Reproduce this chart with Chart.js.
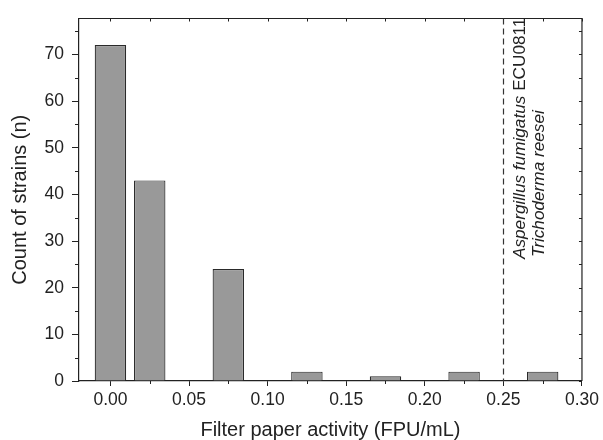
<!DOCTYPE html>
<html>
<head>
<meta charset="utf-8">
<script src="https://cdn.jsdelivr.net/npm/chart.js@4/dist/chart.umd.min.js"></script>
<style>
  html, body { margin: 0; padding: 0; background: #fff; }
  #wrap { width: 603px; height: 440px; }
</style>
</head>
<body>
<div id="wrap"><canvas id="histChart" width="603" height="440"></canvas></div>
<script>
// Histogram bins (FPU/mL) and counts
const binCenters = [0.0, 0.025, 0.075, 0.125, 0.175, 0.225, 0.275];
const strainCounts = [72, 43, 24, 2, 1, 2, 2];

// Reference strain activity marker
const markerValue = 0.25;
const markerLine1 = ['Aspergillus fumigatus ', 'ECU0811'];
const markerLine2 = 'Trichoderma reesei';

// Minor tick positions
const xMinorTicks = [0.025, 0.075, 0.125, 0.175, 0.225, 0.275];
const yMinorTicks = [5, 15, 25, 35, 45, 55, 65, 75];

const axisColor = '#222';
const fontFamily = '"Liberation Sans", Arial, Helvetica, sans-serif';

const framePlugin = {
    id: 'frame',
    afterDatasetsDraw(chart) {
        const ctx = chart.ctx;
        const area = chart.chartArea;
        const xs = chart.scales.x;
        const ys = chart.scales.y;

        ctx.save();
        ctx.strokeStyle = axisColor;
        ctx.lineWidth = 1.2;

        // top and right edges of the box
        ctx.beginPath();
        ctx.moveTo(area.left, area.top);
        ctx.lineTo(area.right, area.top);
        ctx.lineTo(area.right, area.bottom);
        ctx.stroke();

        ctx.lineWidth = 1;
        ctx.beginPath();
        // minor ticks, bottom (outward) and top (inward)
        xMinorTicks.forEach(v => {
            const px = Math.round(xs.getPixelForValue(v)) + 0.5;
            ctx.moveTo(px, area.bottom);
            ctx.lineTo(px, area.bottom + 3);
            ctx.moveTo(px, area.top);
            ctx.lineTo(px, area.top + 3);
        });
        // major ticks on top edge (inward)
        xs.ticks.forEach(t => {
            const px = Math.round(xs.getPixelForValue(t.value)) + 0.5;
            ctx.moveTo(px, area.top);
            ctx.lineTo(px, area.top + 3);
        });
        // minor ticks, left (outward) and right (inward)
        yMinorTicks.forEach(v => {
            const py = Math.round(ys.getPixelForValue(v)) + 0.5;
            ctx.moveTo(area.left, py);
            ctx.lineTo(area.left - 4, py);
            ctx.moveTo(area.right, py);
            ctx.lineTo(area.right - 3, py);
        });
        ys.ticks.forEach(t => {
            const py = Math.round(ys.getPixelForValue(t.value)) + 0.5;
            ctx.moveTo(area.right, py);
            ctx.lineTo(area.right - 3, py);
        });
        ctx.stroke();

        // dashed reference line
        const mx = Math.round(xs.getPixelForValue(markerValue)) + 0.5;
        ctx.strokeStyle = '#333';
        ctx.lineWidth = 1.2;
        ctx.setLineDash([6, 4]);
        ctx.beginPath();
        ctx.moveTo(mx, area.top);
        ctx.lineTo(mx, area.bottom);
        ctx.stroke();
        ctx.setLineDash([]);

        // rotated labels next to the line
        ctx.fillStyle = axisColor;
        ctx.textAlign = 'left';
        ctx.textBaseline = 'alphabetic';

        ctx.save();
        ctx.translate(mx + 21, 259);
        ctx.rotate(-Math.PI / 2);
        ctx.font = 'italic 17.2px ' + fontFamily;
        ctx.fillText(markerLine1[0], 0, 0);
        const w = ctx.measureText(markerLine1[0]).width;
        ctx.font = '17.2px ' + fontFamily;
        ctx.fillText(markerLine1[1], w, 0);
        ctx.restore();

        ctx.save();
        ctx.translate(mx + 40, 257);
        ctx.rotate(-Math.PI / 2);
        ctx.font = 'italic 17.2px ' + fontFamily;
        ctx.fillText(markerLine2, 0, 0);
        ctx.restore();

        ctx.restore();
    }
};

const ctx = document.getElementById('histChart').getContext('2d');

new Chart(ctx, {
    type: 'bar',
    data: {
        datasets: [{
            label: 'Count of strains',
            data: binCenters.map((x, i) => ({ x: x, y: strainCounts[i] })),
            backgroundColor: '#999999',
            borderColor: '#2a2a2a',
            borderWidth: 1.2,
            barPercentage: 0.8,
            categoryPercentage: 1.0
        }]
    },
    options: {
        responsive: false,
        animation: false,
        events: [],
        layout: {
            padding: { top: 10, right: 21, left: 0, bottom: 0 }
        },
        plugins: {
            legend: { display: false },
            tooltip: { enabled: false }
        },
        scales: {
            x: {
                type: 'linear',
                min: -0.02,
                max: 0.30,
                offset: false,
                grid: {
                    offset: false,
                    drawOnChartArea: false,
                    drawTicks: true,
                    tickLength: 5,
                    tickColor: axisColor,
                    lineWidth: 1
                },
                border: { display: true, color: axisColor, width: 1.2 },
                ticks: {
                    stepSize: 0.05,
                    includeBounds: false,
                    autoSkip: false,
                    maxRotation: 0,
                    padding: 4,
                    color: axisColor,
                    font: { family: fontFamily, size: 17.5 },
                    callback: v => v.toFixed(2)
                },
                title: {
                    display: true,
                    text: 'Filter paper activity (FPU/mL)',
                    color: axisColor,
                    font: { family: fontFamily, size: 20, lineHeight: 1.0 },
                    padding: { top: 0, bottom: 0 }
                },
                afterFit: s => { s.height = 59; }
            },
            y: {
                min: 0,
                max: 77.7,
                grid: {
                    drawOnChartArea: false,
                    drawTicks: true,
                    tickLength: 7,
                    tickColor: axisColor,
                    lineWidth: 1
                },
                border: { display: true, color: axisColor, width: 1.2 },
                ticks: {
                    stepSize: 10,
                    includeBounds: false,
                    padding: 8,
                    color: axisColor,
                    font: { family: fontFamily, size: 17.5 }
                },
                title: {
                    display: true,
                    text: 'Count of strains (n)',
                    color: axisColor,
                    font: { family: fontFamily, size: 20, lineHeight: 1.0 },
                    padding: { top: 10, bottom: 0 }
                },
                afterFit: s => { s.width = 79; }
            }
        }
    },
    plugins: [framePlugin]
});
</script>
</body>
</html>
